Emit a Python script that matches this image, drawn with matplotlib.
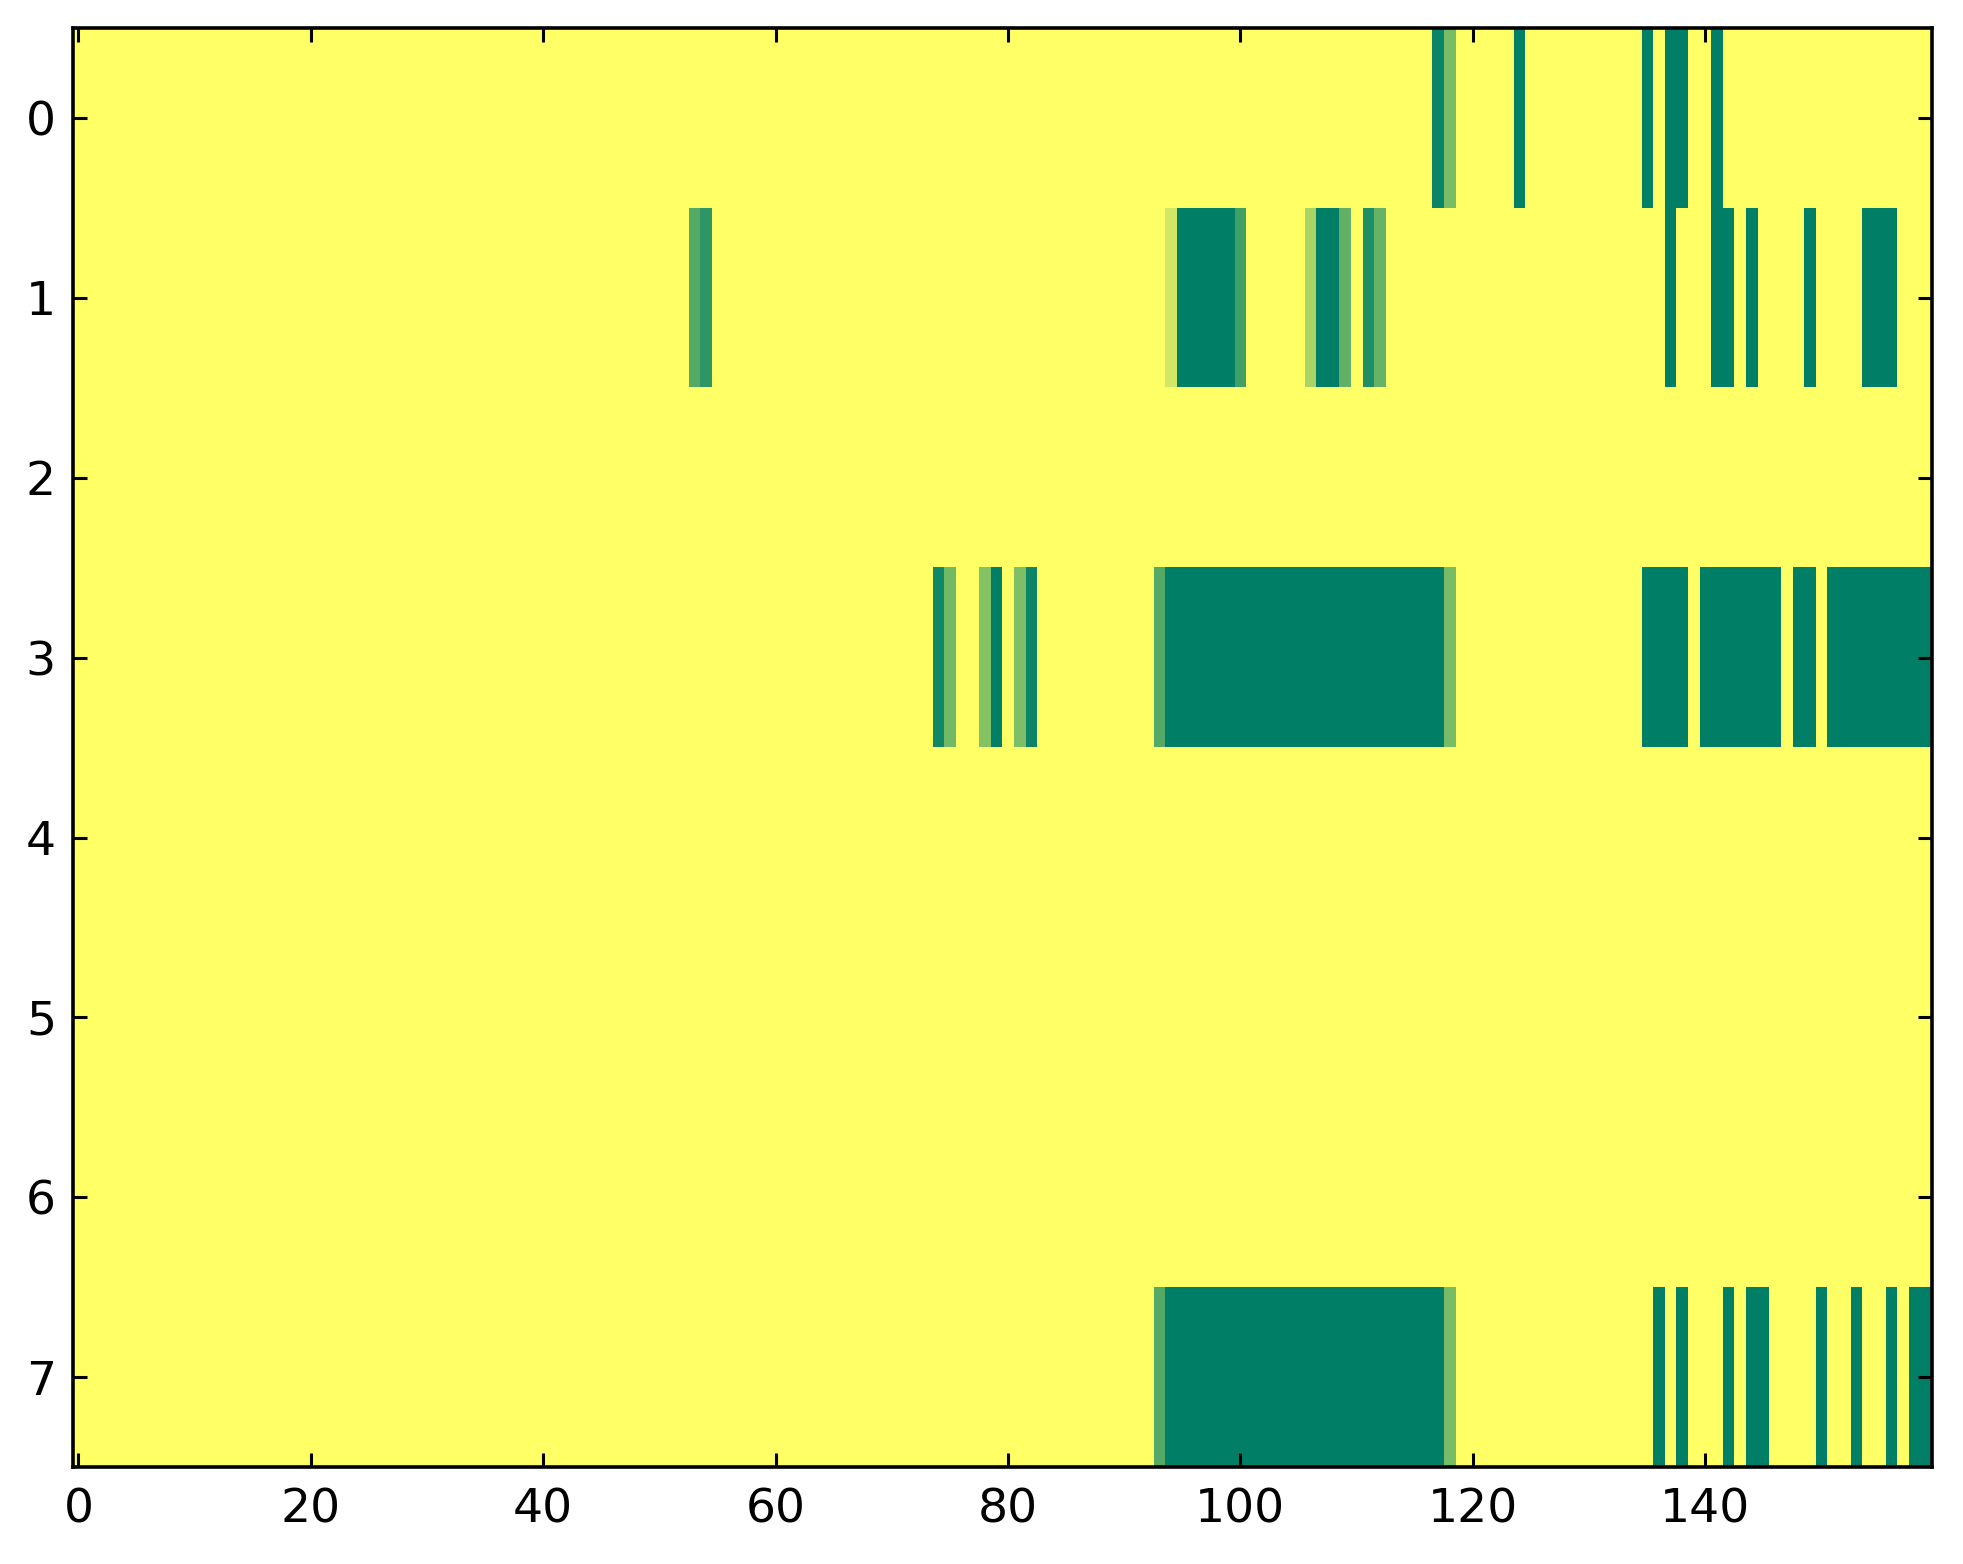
import numpy as np
import matplotlib
matplotlib.use("Agg")
from matplotlib import pyplot as plt

n_rows, n_cols = 8, 160

# runs of (first column, last column, value) for each row that has marks
row0 = [(117, 117, 0.96), (118, 118, 0.52), (124, 124, 1.0), (135, 135, 1.0),
        (137, 138, 1.0), (141, 141, 1.0)]
row1 = [(53, 53, 0.67), (54, 54, 0.82), (94, 94, 0.18), (95, 99, 1.0),
        (100, 100, 0.74), (106, 106, 0.34), (107, 108, 1.0), (109, 109, 0.62),
        (111, 111, 0.88), (112, 112, 0.60), (137, 137, 1.0), (141, 142, 1.0),
        (144, 144, 1.0), (149, 149, 1.0), (154, 156, 1.0)]
row3 = [(74, 74, 0.93), (75, 75, 0.55), (78, 78, 0.48), (79, 79, 1.0),
        (81, 81, 0.51), (82, 82, 0.95), (93, 93, 0.67), (94, 117, 1.0),
        (118, 118, 0.52), (135, 138, 1.0), (140, 146, 1.0), (148, 149, 1.0),
        (151, 159, 1.0)]
row7 = [(93, 93, 0.67), (94, 117, 1.0), (118, 118, 0.52), (136, 136, 1.0),
        (138, 138, 1.0), (142, 142, 1.0), (144, 145, 1.0), (150, 150, 1.0),
        (153, 153, 1.0), (156, 156, 1.0), (158, 159, 1.0)]
rows = {0: row0, 1: row1, 3: row3, 7: row7}

data = np.zeros((n_rows, n_cols))
for r, runs in rows.items():
    for a, b, v in runs:
        data[r, a:b + 1] = v

fig = plt.figure(figsize=(19.63, 15.64), dpi=100)
ax = fig.add_axes([0.037, 0.062, 0.947, 0.920])
ax.imshow(data, cmap='summer_r', aspect='auto', interpolation='nearest',
          vmin=0, vmax=1)

ax.set_xticks(np.arange(0, 141, 20))
ax.set_yticks(np.arange(0, 8))
ax.tick_params(direction='in', top=True, right=True, length=10, width=2.2,
               labelsize=34, pad=12)
ax.tick_params(axis='x', pad=15)
for s in ax.spines.values():
    s.set_linewidth(2.6)

fig.savefig('out.png', dpi=100)
